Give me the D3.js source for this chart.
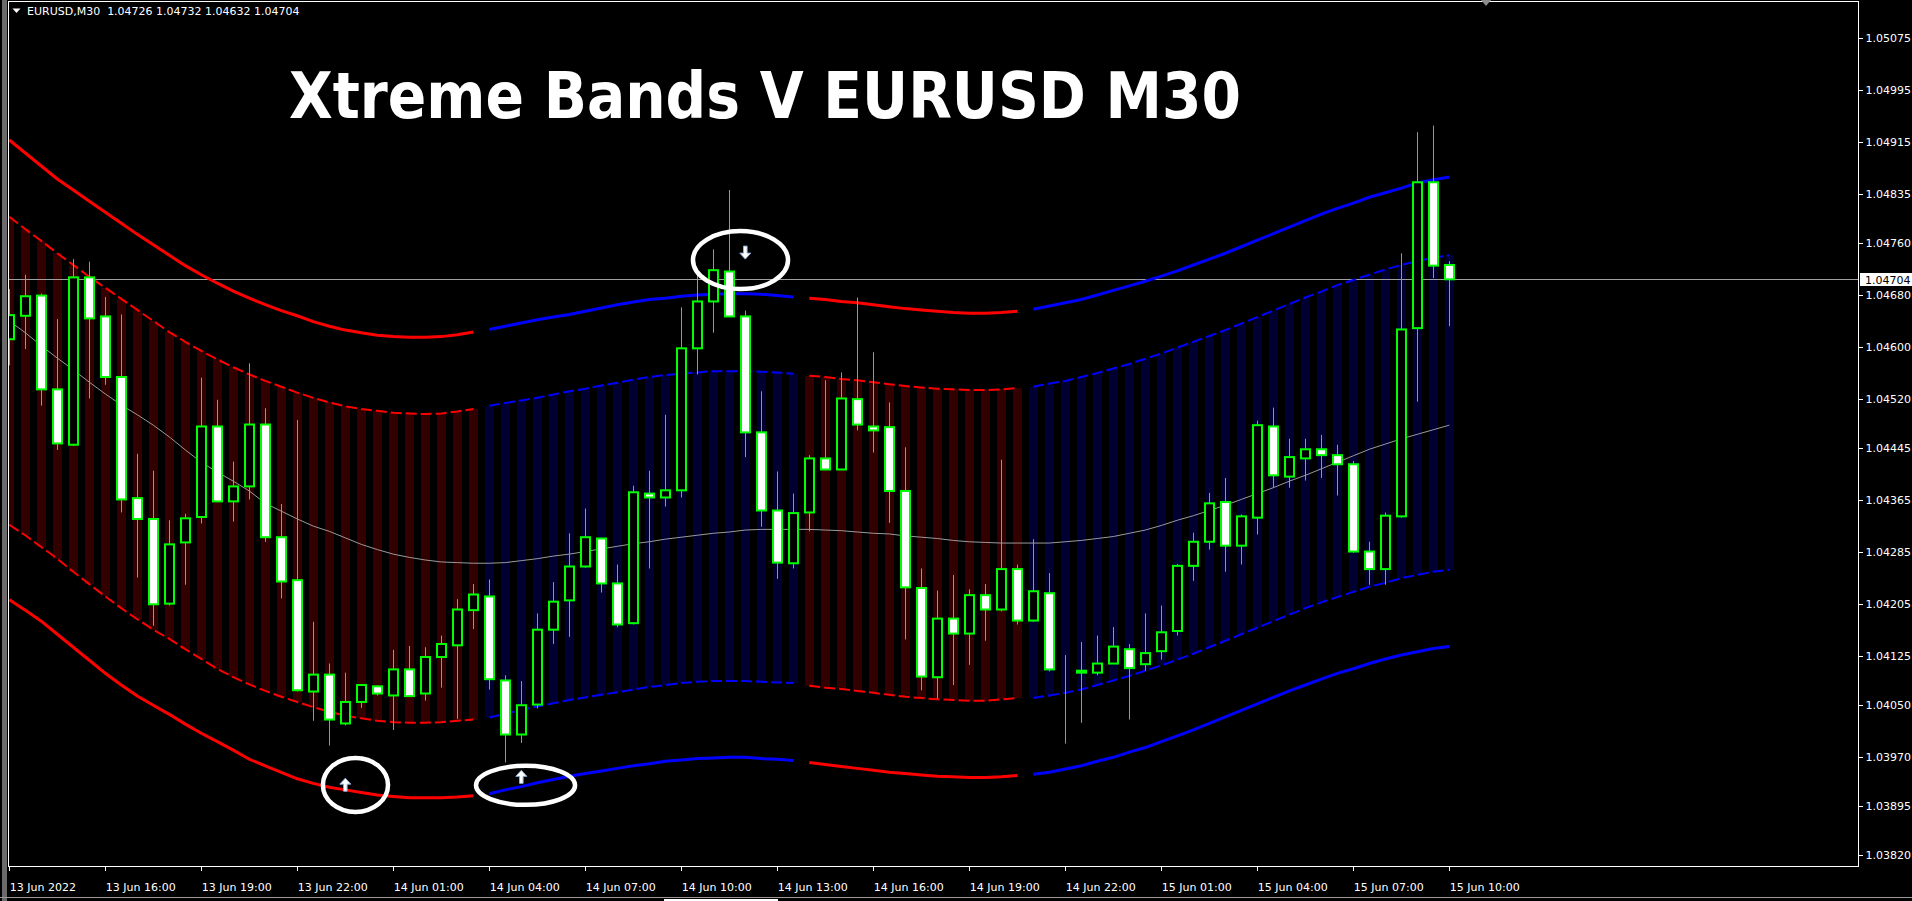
<!DOCTYPE html>
<html>
<head>
<meta charset="utf-8">
<script src="https://cdn.jsdelivr.net/npm/d3@7"></script>
<style>
  html, body { margin: 0; padding: 0; background: #000; overflow: hidden; }
  svg { display: block; }
  text { font-family: "DejaVu Sans", sans-serif; }
</style>
</head>
<body>
<svg id="chart" width="1912" height="901"></svg>
<script>
// EURUSD M30, 13 Jun 13:00 .. 15 Jun 10:00 (91 bars)
const opens = [1.04612,1.04648,1.04679,1.04535,1.04450,1.04707,1.04647,1.04554,1.04368,1.04336,
  1.04206,1.04300,1.04339,1.04478,1.04363,1.04386,1.04481,1.04308,1.04242,1.04071,
  1.04097,1.04022,1.04055,1.04079,1.04065,1.04105,1.04068,1.04124,1.04142,1.04196,
  1.04217,1.04088,1.04005,1.04051,1.04166,1.04211,1.04263,1.04306,1.04237,1.04176,
  1.04375,1.04369,1.04380,1.04598,1.04670,1.04716,1.04647,1.04469,1.04349,1.04268,
  1.04346,1.04429,1.04412,1.04520,1.04478,1.04477,1.04379,1.04230,1.04093,1.04183,
  1.04160,1.04219,1.04197,1.04259,1.04180,1.04222,1.04104,1.04103,1.04100,1.04114,
  1.04136,1.04113,1.04133,1.04164,1.04264,1.04301,1.04362,1.04295,1.04338,1.04478,
  1.04401,1.04429,1.04443,1.04434,1.04420,1.04286,1.04259,1.04340,1.04629,1.04853,
  1.04726];
const highs = [1.04689,1.04711,1.04682,1.04643,1.04735,1.04731,1.04677,1.04650,1.04436,1.04410,
  1.04334,1.04344,1.04553,1.04519,1.04424,1.04575,1.04506,1.04359,1.04488,1.04178,
  1.04114,1.04100,1.04081,1.04080,1.04135,1.04141,1.04139,1.04157,1.04213,1.04236,
  1.04243,1.04096,1.04087,1.04191,1.04239,1.04314,1.04352,1.04306,1.04266,1.04387,
  1.04410,1.04496,1.04661,1.04713,1.04750,1.04841,1.04656,1.04532,1.04409,1.04375,
  1.04434,1.04549,1.04561,1.04676,1.04592,1.04515,1.04446,1.04260,1.04226,1.04250,
  1.04228,1.04236,1.04427,1.04266,1.04305,1.04253,1.04127,1.04147,1.04157,1.04170,
  1.04144,1.04191,1.04203,1.04267,1.04315,1.04376,1.04399,1.04343,1.04487,1.04507,
  1.04459,1.04459,1.04465,1.04450,1.04425,1.04301,1.04346,1.04744,1.04930,1.04940,
  1.04732];
const lows = [1.04572,1.04597,1.04510,1.04442,1.04448,1.04521,1.04542,1.04346,1.04246,1.04172,
  1.04203,1.04235,1.04329,1.04363,1.04332,1.04366,1.04301,1.04214,1.04071,1.04026,
  1.03988,1.04019,1.04046,1.04065,1.04012,1.04064,1.04057,1.04077,1.04029,1.04167,
  1.04074,1.03962,1.03992,1.04045,1.04144,1.04155,1.04261,1.04223,1.04170,1.04174,
  1.04260,1.04355,1.04369,1.04558,1.04622,1.04646,1.04431,1.04324,1.04244,1.04260,
  1.04317,1.04412,1.04412,1.04472,1.04438,1.04330,1.04151,1.04073,1.04060,1.04081,
  1.04112,1.04149,1.04194,1.04174,1.04178,1.04102,1.03991,1.04023,1.04096,1.04114,
  1.04028,1.04103,1.04120,1.04157,1.04241,1.04289,1.04255,1.04266,1.04312,1.04384,
  1.04384,1.04395,1.04399,1.04372,1.04284,1.04235,1.04235,1.04338,1.04516,1.04706,
  1.04632];
const closes = [1.04649,1.04678,1.04535,1.04452,1.04707,1.04644,1.04554,1.04366,1.04336,1.04205,
  1.04297,1.04337,1.04478,1.04363,1.04386,1.04481,1.04308,1.04240,1.04073,1.04097,
  1.04028,1.04055,1.04081,1.04068,1.04105,1.04064,1.04124,1.04144,1.04197,1.04220,
  1.04090,1.04005,1.04050,1.04166,1.04209,1.04263,1.04308,1.04237,1.04174,1.04377,
  1.04369,1.04380,1.04598,1.04670,1.04718,1.04647,1.04469,1.04349,1.04269,1.04345,
  1.04429,1.04412,1.04521,1.04481,1.04472,1.04379,1.04231,1.04094,1.04183,1.04160,
  1.04219,1.04197,1.04259,1.04180,1.04225,1.04105,1.04104,1.04100,1.04114,1.04140,
  1.04107,1.04130,1.04162,1.04264,1.04301,1.04360,1.04295,1.04340,1.04480,1.04403,
  1.04431,1.04443,1.04434,1.04420,1.04286,1.04259,1.04341,1.04627,1.04853,1.04725,
  1.04704];

// Xtreme Bands: outer / inner bands and middle line, one value per bar
const upperOuter = [1.04918,1.04898,1.04878,1.04858,1.04841,1.04824,1.04807,1.04790,1.04773,1.04757,
  1.04741,1.04725,1.04711,1.04698,1.04686,1.04675,1.04665,1.04656,1.04648,1.04639,
  1.04632,1.04626,1.04622,1.04618,1.04616,1.04615,1.04615,1.04616,1.04619,1.04623,
  1.04627,1.04632,1.04637,1.04642,1.04646,1.04650,1.04655,1.04660,1.04665,1.04669,
  1.04673,1.04675,1.04678,1.04680,1.04681,1.04682,1.04682,1.04681,1.04679,1.04677,
  1.04675,1.04673,1.04670,1.04668,1.04665,1.04662,1.04659,1.04657,1.04655,1.04653,
  1.04652,1.04652,1.04653,1.04655,1.04658,1.04663,1.04668,1.04673,1.04680,1.04687,
  1.04694,1.04701,1.04709,1.04717,1.04726,1.04735,1.04744,1.04754,1.04764,1.04774,
  1.04784,1.04794,1.04804,1.04813,1.04821,1.04830,1.04837,1.04844,1.04852,1.04857,
  1.04861];
const upperInner = [1.04800,1.04781,1.04763,1.04744,1.04726,1.04708,1.04691,1.04674,1.04657,1.04640,
  1.04623,1.04608,1.04594,1.04581,1.04569,1.04558,1.04548,1.04539,1.04530,1.04522,
  1.04515,1.04509,1.04505,1.04502,1.04499,1.04498,1.04497,1.04498,1.04501,1.04505,
  1.04510,1.04514,1.04518,1.04522,1.04527,1.04532,1.04536,1.04541,1.04545,1.04550,
  1.04554,1.04557,1.04559,1.04561,1.04563,1.04563,1.04563,1.04562,1.04561,1.04559,
  1.04556,1.04554,1.04551,1.04549,1.04546,1.04543,1.04540,1.04538,1.04536,1.04535,
  1.04534,1.04534,1.04535,1.04537,1.04539,1.04544,1.04548,1.04554,1.04560,1.04567,
  1.04574,1.04582,1.04590,1.04599,1.04608,1.04617,1.04626,1.04636,1.04646,1.04656,
  1.04666,1.04676,1.04685,1.04695,1.04703,1.04711,1.04719,1.04726,1.04732,1.04737,
  1.04741];
const lowerInner = [1.04327,1.04311,1.04293,1.04275,1.04255,1.04236,1.04217,1.04199,1.04182,1.04166,
  1.04152,1.04136,1.04121,1.04106,1.04093,1.04082,1.04072,1.04063,1.04055,1.04047,
  1.04040,1.04034,1.04030,1.04026,1.04024,1.04023,1.04023,1.04024,1.04026,1.04028,
  1.04031,1.04037,1.04043,1.04048,1.04053,1.04058,1.04062,1.04066,1.04070,1.04074,
  1.04078,1.04081,1.04084,1.04086,1.04087,1.04087,1.04087,1.04086,1.04085,1.04084,
  1.04080,1.04077,1.04075,1.04072,1.04069,1.04066,1.04063,1.04061,1.04059,1.04058,
  1.04057,1.04057,1.04059,1.04061,1.04061,1.04065,1.04069,1.04074,1.04081,1.04088,
  1.04095,1.04103,1.04111,1.04120,1.04129,1.04139,1.04149,1.04159,1.04169,1.04179,
  1.04189,1.04199,1.04208,1.04216,1.04224,1.04232,1.04238,1.04245,1.04250,1.04255,
  1.04258];
const lowerOuter = [1.04212,1.04196,1.04179,1.04159,1.04139,1.04119,1.04099,1.04081,1.04064,1.04050,
  1.04036,1.04021,1.04007,1.03994,1.03981,1.03967,1.03957,1.03947,1.03937,1.03930,
  1.03924,1.03920,1.03916,1.03912,1.03910,1.03908,1.03908,1.03908,1.03909,1.03911,
  1.03914,1.03920,1.03925,1.03931,1.03936,1.03941,1.03945,1.03949,1.03953,1.03957,
  1.03960,1.03964,1.03966,1.03968,1.03969,1.03970,1.03970,1.03968,1.03967,1.03965,
  1.03962,1.03959,1.03956,1.03953,1.03950,1.03947,1.03945,1.03943,1.03941,1.03940,
  1.03939,1.03939,1.03940,1.03942,1.03944,1.03947,1.03952,1.03957,1.03964,1.03970,
  1.03978,1.03985,1.03994,1.04003,1.04012,1.04022,1.04032,1.04042,1.04052,1.04062,
  1.04072,1.04081,1.04090,1.04099,1.04106,1.04114,1.04121,1.04127,1.04132,1.04137,
  1.04140];
const middle = [1.04640,1.04622,1.04602,1.04583,1.04565,1.04546,1.04528,1.04511,1.04496,1.04480,
  1.04462,1.04442,1.04423,1.04408,1.04394,1.04379,1.04360,1.04348,1.04336,1.04325,
  1.04317,1.04307,1.04297,1.04289,1.04282,1.04277,1.04273,1.04270,1.04269,1.04268,
  1.04268,1.04269,1.04272,1.04275,1.04279,1.04282,1.04286,1.04290,1.04294,1.04298,
  1.04301,1.04305,1.04308,1.04311,1.04314,1.04316,1.04319,1.04320,1.04320,1.04320,
  1.04320,1.04319,1.04318,1.04316,1.04314,1.04313,1.04310,1.04308,1.04306,1.04303,
  1.04301,1.04300,1.04299,1.04299,1.04299,1.04299,1.04301,1.04303,1.04306,1.04309,
  1.04314,1.04319,1.04326,1.04334,1.04341,1.04349,1.04357,1.04366,1.04375,1.04384,
  1.04394,1.04403,1.04413,1.04423,1.04433,1.04443,1.04451,1.04459,1.04466,1.04473,
  1.04480];

// trend segments (bar index ranges)
const segStart = [0, 30, 50, 64];
const segEnd   = [29, 49, 63, 90];
const segTrend = ['down', 'up', 'down', 'up'];

// axis labels
const priceTicks = [1.05075,1.04995,1.04915,1.04835,1.04760,1.04680,1.04600,1.04520,1.04445,
  1.04365,1.04285,1.04205,1.04125,1.04050,1.03970,1.03895,1.03820];
const timeTickBars = [0,6,12,18,24,30,36,42,48,54,60,66,72,78,84,90];
const timeLabels = ['13 Jun 2022','13 Jun 16:00','13 Jun 19:00','13 Jun 22:00','14 Jun 01:00',
  '14 Jun 04:00','14 Jun 07:00','14 Jun 10:00','14 Jun 13:00','14 Jun 16:00','14 Jun 19:00',
  '14 Jun 22:00','15 Jun 01:00','15 Jun 04:00','15 Jun 07:00','15 Jun 10:00'];

// hand drawn marks: ellipses (bar range, price range) and arrows
const ellipseBars   = [[19.6, 23.67], [29.17, 35.36], [42.73, 48.67]];
const ellipsePrices = [[1.03969, 1.03886], [1.03957, 1.03897], [1.04778, 1.04689]];
const arrowBars   = [21, 32, 46];
const arrowPrices = [1.03938, 1.03950, 1.04735];
const arrowDirs   = ['up', 'up', 'down'];

const symbol = 'EURUSD,M30';
const title = 'Xtreme Bands V EURUSD M30';

const W = 1912, H = 901;
const L = 8, R = 1858, T = 1, B = 866;
const n = closes.length;

const x = d3.scaleLinear().domain([0, 90]).range([9.3, 1449.3]);
const y = d3.scaleLinear().domain([1.03820, 1.05075]).range([855, 37.7]);

const trendAt = i => segTrend[segStart.findIndex((s, k) => i >= s && i <= segEnd[k])];
const lineCol = t => t === 'up' ? '#0000ff' : '#ff0000';
const histCol = t => t === 'up' ? '#000033' : '#330000';

const svg = d3.select('#chart');
svg.append('rect').attr('width', W).attr('height', H).attr('fill', '#000');
svg.append('rect').attr('x', 2).attr('y', 0).attr('width', 5).attr('height', H).attr('fill', '#6a6a6a');

svg.append('defs').append('clipPath').attr('id', 'plot')
  .append('rect').attr('x', L + 1).attr('y', T + 1).attr('width', R - L - 1).attr('height', B - T - 1);
const plot = svg.append('g').attr('clip-path', 'url(#plot)');

// histogram between the inner bands
plot.append('g').selectAll('rect').data(d3.range(n)).join('rect')
  .attr('x', i => Math.round(x(i)) - 4)
  .attr('width', 9)
  .attr('y', i => y(upperInner[i]))
  .attr('height', i => y(lowerInner[i]) - y(upperInner[i]))
  .attr('fill', i => histCol(trendAt(i)))
  .attr('shape-rendering', 'crispEdges');

// middle line
plot.append('path')
  .datum(d3.range(n))
  .attr('fill', 'none')
  .attr('stroke', '#9a9a9a')
  .attr('stroke-width', 1)
  .attr('d', d3.line().x(i => x(i)).y(i => y(middle[i])));

// current price line
plot.append('line')
  .attr('x1', L).attr('x2', R)
  .attr('y1', Math.round(y(closes[n - 1])) + 0.5).attr('y2', Math.round(y(closes[n - 1])) + 0.5)
  .attr('stroke', '#a0a0a0').attr('stroke-width', 1);

// band lines, broken at every trend change
segStart.forEach((s, k) => {
  const idx = d3.range(s, segEnd[k] + 1);
  const col = lineCol(segTrend[k]);
  [[upperOuter, 3, null], [lowerOuter, 3, null], [upperInner, 2, '11,4'], [lowerInner, 2, '11,4']]
    .forEach(([arr, w, dash]) => {
      plot.append('path')
        .datum(idx)
        .attr('fill', 'none')
        .attr('stroke', col)
        .attr('stroke-width', w)
        .attr('stroke-dasharray', dash)
        .attr('d', d3.line().x(i => x(i)).y(i => y(arr[i])));
    });
});

// candles
const candles = plot.append('g');
candles.selectAll('line').data(d3.range(n)).join('line')
  .attr('x1', i => Math.round(x(i)) + 0.5).attr('x2', i => Math.round(x(i)) + 0.5)
  .attr('y1', i => y(highs[i])).attr('y2', i => y(lows[i]))
  .attr('stroke', '#00ff00').attr('stroke-width', 1);
candles.selectAll('rect').data(d3.range(n)).join('rect')
  .attr('x', i => Math.round(x(i)) - 4)
  .attr('width', 9)
  .attr('y', i => y(Math.max(opens[i], closes[i])))
  .attr('height', i => Math.abs(y(opens[i]) - y(closes[i])))
  .attr('fill', i => closes[i] >= opens[i] ? '#000' : '#fff')
  .attr('stroke', '#00ff00')
  .attr('stroke-width', 2);

// annotations
const notes = svg.append('g');
ellipseBars.forEach((b, k) => {
  const x0 = x(b[0]), x1 = x(b[1]);
  const y0 = y(ellipsePrices[k][0]), y1 = y(ellipsePrices[k][1]);
  notes.append('ellipse')
    .attr('cx', (x0 + x1) / 2).attr('cy', (y0 + y1) / 2)
    .attr('rx', (x1 - x0) / 2).attr('ry', (y1 - y0) / 2)
    .attr('fill', 'none').attr('stroke', '#fff').attr('stroke-width', 4.5);
});
arrowBars.forEach((b, k) => {
  const cx = x(b), ty = y(arrowPrices[k]);
  const s = arrowDirs[k] === 'up' ? 1 : -1;
  const p = d3.path();
  p.moveTo(cx, ty);
  p.lineTo(cx + 5.5, ty + s * 6);
  p.lineTo(cx + 1.8, ty + s * 6);
  p.lineTo(cx + 1.8, ty + s * 13);
  p.lineTo(cx - 1.8, ty + s * 13);
  p.lineTo(cx - 1.8, ty + s * 6);
  p.lineTo(cx - 5.5, ty + s * 6);
  p.closePath();
  notes.append('path').attr('d', p.toString())
    .attr('fill', '#fff').attr('stroke', '#8fb0d8').attr('stroke-width', 1);
});

// frame
svg.append('rect')
  .attr('x', L + 0.5).attr('y', T + 0.5).attr('width', R - L).attr('height', B - T)
  .attr('fill', 'none').attr('stroke', '#fff').attr('stroke-width', 1)
  .attr('shape-rendering', 'crispEdges');

// price axis
const yAxis = svg.append('g')
  .attr('transform', `translate(${R + 0.5},0)`)
  .call(d3.axisRight(y).tickValues(priceTicks).tickSize(4).tickSizeOuter(0)
    .tickFormat(d3.format('.5f')));
yAxis.select('.domain').remove();
yAxis.selectAll('line').attr('stroke', '#fff').attr('shape-rendering', 'crispEdges');
yAxis.selectAll('text').attr('fill', '#fff').attr('font-size', 11)
  .attr('font-family', '"DejaVu Sans", sans-serif').attr('x', 7);

// current price label
const py = Math.round(y(closes[n - 1]));
svg.append('rect').attr('x', R + 2).attr('y', py - 6).attr('width', W - R - 2).attr('height', 13)
  .attr('fill', '#fff');
svg.append('text').attr('x', R + 7).attr('y', py + 4.5)
  .attr('fill', '#000').attr('font-size', 11).text(d3.format('.5f')(closes[n - 1]));

// time axis
const xAxis = svg.append('g')
  .attr('transform', `translate(0,${B + 0.5})`)
  .call(d3.axisBottom(x).tickValues(timeTickBars).tickSize(4).tickSizeOuter(0)
    .tickFormat((d, i) => timeLabels[i]));
xAxis.select('.domain').remove();
xAxis.selectAll('line').attr('stroke', '#fff').attr('shape-rendering', 'crispEdges');
xAxis.selectAll('text').attr('fill', '#fff').attr('font-size', 11)
  .attr('font-family', '"DejaVu Sans", sans-serif')
  .attr('text-anchor', 'start').attr('dy', 0).attr('y', 24);

// header
svg.append('path').attr('d', 'M12.5,8.5 L20.5,8.5 L16.5,13 Z').attr('fill', '#fff');
svg.append('text').attr('x', 27).attr('y', 15).attr('fill', '#fff').attr('font-size', 11)
  .attr('xml:space', 'preserve')
  .text(`${symbol}  ${d3.format('.5f')(opens[n - 1])} ${d3.format('.5f')(highs[n - 1])} ${d3.format('.5f')(lows[n - 1])} ${d3.format('.5f')(closes[n - 1])}`);

// chart shift marker and bottom scroll strip
svg.append('path').attr('d', 'M1481,0 L1491,0 L1486,6 Z').attr('fill', '#8c8c8c');
svg.append('rect').attr('x', 0).attr('y', 897).attr('width', W).attr('height', 1).attr('fill', '#9a9a9a');
svg.append('rect').attr('x', 664).attr('y', 899).attr('width', 114).attr('height', 2).attr('fill', '#fff');

// title
svg.append('text')
  .attr('x', 289).attr('y', 118)
  .attr('fill', '#fff')
  .attr('font-size', 64)
  .attr('font-weight', 'bold')
  .attr('textLength', 952)
  .attr('lengthAdjust', 'spacingAndGlyphs')
  .text(title);
</script>
</body>
</html>
